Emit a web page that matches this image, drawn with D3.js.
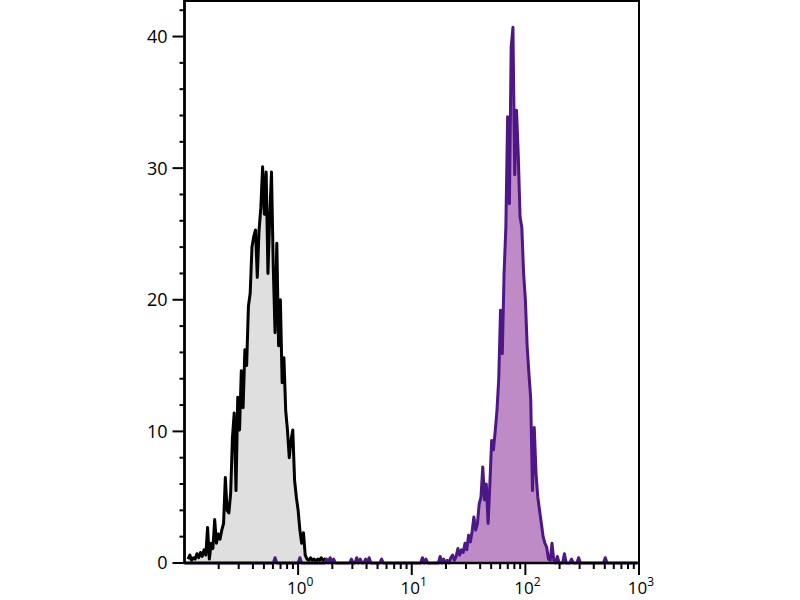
<!DOCTYPE html>
<html>
<head>
<meta charset="utf-8">
<script src="https://cdn.jsdelivr.net/npm/d3@7"></script>
<style>
  body { margin: 0; background: #fff; }
  svg { display: block; font-family: "Open Sans", "DejaVu Sans", sans-serif; }
</style>
</head>
<body>
<svg width="800" height="600"></svg>
<script>
// channel index -> intensity: 0.1 * 10^(ch / 64)
var channelsPerDecade = 64;

// control (gray) histogram, starting at channel 2
var grayStart = 2;
var grayCounts = [0.3, 0.6, 0.2, 0.4, 0.3, 0.7, 0.4, 0.8, 0.5, 1.0,
    0.6, 2.7, 0.3, 1.5, 1.1, 3.3, 1.5, 2.2, 1.8, 2.5,
    3.0, 6.5, 4.0, 3.8, 5.3, 9.5, 11.4, 5.5, 12.6, 10.1,
    14.6, 11.8, 16.2, 15.0, 19.5, 20.5, 24.0, 24.8, 25.3, 21.7,
    25.3, 27.0, 30.1, 26.5, 29.7, 22.0, 26.3, 29.7, 22.5, 17.5,
    24.3, 16.5, 20.0, 13.7, 15.6, 11.6, 10.1, 8.0, 9.3, 10.1,
    6.3, 5.0, 4.0, 2.5, 1.5, 2.3, 0.6, 0.3, 0.2, 0.4,
    0.2, 0.3, 0.1, 0.3, 0.2, 0.4, 0.2, 0.3, 0.2, 0.1,
    0.3, 0.2, 0];

// stained (purple) histogram, starting at channel 144
var purpleStart = 144;
var purpleCounts = [0.5, 0, 0.3, 0, 0.2, 0, 0.4, 0.6, 0.2, 0.5,
    1.1, 0.6, 1.0, 0.8, 1.5, 1.0, 2.1, 1.6, 2.4, 3.5,
    2.5, 3.0, 4.5, 5.0, 7.3, 4.8, 6.0, 3.0, 6.0, 9.3,
    8.6, 10.0, 11.6, 14.0, 19.2, 15.9, 22.0, 25.5, 33.9, 27.3,
    39.2, 40.7, 29.5, 34.4, 31.0, 26.3, 25.5, 22.0, 20.0, 16.5,
    14.4, 12.5, 5.5, 10.3, 6.8, 5.0, 4.0, 3.0, 2.0, 1.5,
    1.2, 0.3, 0.2, 1.5, 0.2, 0, 0.5, 0, 0, 0,
    0.7, 0];

// isolated purple events along the baseline
var purpleEventChannels = [51, 65, 80, 82, 84, 94, 97, 99, 102, 104, 111, 134, 136, 218, 222, 237];
var purpleEventValues = [0.4, 0.4, 0.3, 0.4, 0.3, 0.3, 0.4, 0.3, 0.3, 0.4, 0.3, 0.4, 0.3, 0.3, 0.4, 0.4];

var xMajorTicks = [1, 10, 100, 1000];
var xTickExponents = ["0", "1", "2", "3"];
var yMajorTicks = [0, 10, 20, 30, 40];

var svg = d3.select("svg"),
    margin = {top: 1, right: 161, bottom: 37, left: 184.5},
    width = 800 - margin.left - margin.right,
    height = 600 - margin.top - margin.bottom;

var x = d3.scaleLog().domain([0.1, 1000]).range([0, width]),
    y = d3.scaleLinear().domain([0, 42.7]).range([height, 0]);

function channelValue(ch) { return 0.1 * Math.pow(10, ch / channelsPerDecade); }

function toSeries(start, counts) {
    return counts.map(function(c, i) { return {v: channelValue(start + i), c: c}; });
}

var gray = toSeries(grayStart, grayCounts);

// full purple trace: zeros with events and main peak
var purpleFull = d3.range(0, 256).map(function() { return 0; });
purpleEventChannels.forEach(function(ch, i) { purpleFull[ch] = purpleEventValues[i]; });
purpleCounts.forEach(function(c, i) { purpleFull[purpleStart + i] = c; });
var purple = toSeries(0, purpleFull).filter(function(d) { return d.v >= 0.1 && d.v <= 1000; });

var g = svg.append("g")
    .attr("transform", "translate(" + margin.left + "," + margin.top + ")");

var area = d3.area()
    .x(function(d) { return x(d.v); })
    .y0(height)
    .y1(function(d) { return y(d.c); });

var line = d3.line()
    .x(function(d) { return x(d.v); })
    .y(function(d) { return y(d.c); });

g.append("path").datum(gray)
    .attr("fill", "#dfdfdf")
    .attr("d", area);
g.append("path").datum(gray)
    .attr("fill", "none")
    .attr("stroke", "#000")
    .attr("stroke-width", 3)
    .attr("stroke-linejoin", "round")
    .attr("d", line);

var mainPurple = purple.filter(function(d, i) { return i >= purpleStart - 1; });
g.append("path").datum(mainPurple)
    .attr("fill", "#bf8bc6")
    .attr("d", area);
g.append("path").datum(purple)
    .attr("fill", "none")
    .attr("stroke", "#4e1787")
    .attr("stroke-width", 3)
    .attr("stroke-linejoin", "round")
    .attr("d", line);

// frame
g.append("rect")
    .attr("x", 0).attr("y", 0)
    .attr("width", width).attr("height", height)
    .attr("fill", "none")
    .attr("stroke", "#000")
    .attr("stroke-width", 2);

// x axis
var xMinor = [];
[0.1, 1, 10, 100].forEach(function(b) {
    for (var k = 2; k <= 9; k++) xMinor.push(b * k);
});

var xAxisG = g.append("g").attr("transform", "translate(0," + height + ")");
xAxisG.append("line")
    .attr("x1", -1).attr("x2", width + 1)
    .attr("stroke", "#000").attr("stroke-width", 2.6);
xAxisG.selectAll(".xminor").data(xMinor).enter().append("line")
    .attr("class", "xminor")
    .attr("x1", function(d) { return x(d); }).attr("x2", function(d) { return x(d); })
    .attr("y1", 0).attr("y2", 6)
    .attr("stroke", "#000").attr("stroke-width", 2);
xAxisG.selectAll(".xmajor").data(xMajorTicks).enter().append("line")
    .attr("class", "xmajor")
    .attr("x1", function(d) { return x(d); }).attr("x2", function(d) { return x(d); })
    .attr("y1", 0).attr("y2", 12)
    .attr("stroke", "#000").attr("stroke-width", 2);

var xLabels = xAxisG.selectAll(".xlabel").data(xMajorTicks).enter().append("text")
    .attr("class", "xlabel")
    .attr("x", function(d) { return x(d) + 2; })
    .attr("y", 31)
    .attr("text-anchor", "middle")
    .attr("font-size", 17)
    .attr("fill", "#000");
xLabels.append("tspan").text("10");
xLabels.append("tspan")
    .attr("dy", -8)
    .attr("font-size", 12)
    .text(function(d, i) { return xTickExponents[i]; });

// y axis
var yMinor = d3.range(2, 43, 2).filter(function(d) { return d % 10 !== 0; });

var yAxisG = g.append("g");
yAxisG.append("line")
    .attr("y1", -1).attr("y2", height + 1)
    .attr("stroke", "#000").attr("stroke-width", 2.6);
yAxisG.selectAll(".yminor").data(yMinor).enter().append("line")
    .attr("class", "yminor")
    .attr("y1", function(d) { return y(d); }).attr("y2", function(d) { return y(d); })
    .attr("x1", 0).attr("x2", -5)
    .attr("stroke", "#000").attr("stroke-width", 2);
yAxisG.selectAll(".ymajor").data(yMajorTicks).enter().append("line")
    .attr("class", "ymajor")
    .attr("y1", function(d) { return y(d); }).attr("y2", function(d) { return y(d); })
    .attr("x1", 0).attr("x2", -12)
    .attr("stroke", "#000").attr("stroke-width", 2);
yAxisG.selectAll(".ylabel").data(yMajorTicks).enter().append("text")
    .attr("class", "ylabel")
    .attr("x", -17)
    .attr("y", function(d) { return y(d); })
    .attr("dy", "0.36em")
    .attr("text-anchor", "end")
    .attr("font-size", 18)
    .attr("fill", "#000")
    .text(function(d) { return d; });
</script>
</body>
</html>
